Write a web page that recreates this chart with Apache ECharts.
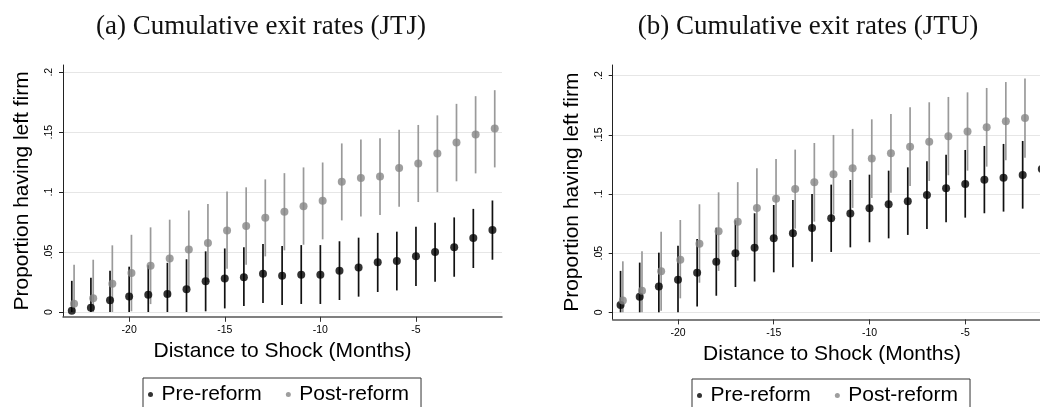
<!DOCTYPE html>
<html>
<head>
<meta charset="utf-8">
<script src="https://cdn.jsdelivr.net/npm/echarts@6/dist/echarts.min.js"></script>
<style>
  html, body { margin: 0; padding: 0; background: #fff; overflow: hidden; }
  /* a bit wider than the window: the right panel runs off the edge like the original */
  #chart { width: 1064px; height: 407px; }
</style>
</head>
<body>
<div id="chart"></div>
<script>
// months before the shock
const months = [-23, -22, -21, -20, -19, -18, -17, -16, -15, -14, -13, -12,
  -11, -10, -9, -8, -7, -6, -5, -4, -3, -2, -1];
const xTicks = [-20, -15, -10, -5];
const yTicks = [0, 0.05, 0.1, 0.15, 0.2];

// (a) JTJ
const preJTJ = [0.0011, 0.0036, 0.0097, 0.013, 0.0144, 0.015, 0.019, 0.0256, 0.028, 0.029, 0.032, 0.0303,
  0.0311, 0.0311, 0.0344, 0.0372, 0.0414, 0.0425, 0.0464, 0.05, 0.054, 0.0617, 0.0683];
const preJTJLo = [0, 0, 0, 0, 0, 0, 0, 0.0006, 0.003, 0.005, 0.0075, 0.0058,
  0.0067, 0.0067, 0.01, 0.0128, 0.0167, 0.018, 0.0217, 0.0253, 0.0294, 0.0367, 0.0436];
const preJTJHi = [0.026, 0.0286, 0.0344, 0.0378, 0.039, 0.041, 0.044, 0.0506, 0.053, 0.054, 0.0567, 0.055,
  0.0558, 0.0558, 0.059, 0.062, 0.066, 0.067, 0.071, 0.0744, 0.0789, 0.086, 0.093];
const postJTJ = [0.0069, 0.0114, 0.0236, 0.0325, 0.0386, 0.0447, 0.0522, 0.0575, 0.068, 0.0717, 0.0786, 0.0836,
  0.0883, 0.0928, 0.1086, 0.1117, 0.113, 0.12, 0.1239, 0.1322, 0.1414, 0.148, 0.153];
const postJTJLo = [0, 0, 0, 0.0006, 0.0066, 0.0124, 0.0197, 0.025, 0.036, 0.0394, 0.0464, 0.0514,
  0.0561, 0.0606, 0.0764, 0.0797, 0.081, 0.0878, 0.0917, 0.1, 0.109, 0.1156, 0.1206];
const postJTJHi = [0.0394, 0.0436, 0.0556, 0.0644, 0.0706, 0.077, 0.0847, 0.09, 0.1006, 0.104, 0.1106, 0.1158,
  0.1206, 0.1247, 0.1406, 0.1439, 0.145, 0.152, 0.156, 0.164, 0.1736, 0.18, 0.185];

// (b) JTU
const preJTU = [0.0062, 0.0132, 0.0217, 0.0276, 0.0335, 0.0428, 0.0499, 0.0546, 0.0625, 0.0668, 0.0713, 0.0794,
  0.0834, 0.0879, 0.0913, 0.0938, 0.0992, 0.1048, 0.1085, 0.1121, 0.1138, 0.1161, 0.1211];
const preJTULo = [0, 0, 0, 0, 0.0048, 0.014, 0.0214, 0.026, 0.0338, 0.038, 0.0428, 0.051,
  0.0549, 0.0592, 0.0625, 0.0654, 0.0704, 0.076, 0.08, 0.0837, 0.0851, 0.0876, 0.092];
const preJTUHi = [0.035, 0.042, 0.0504, 0.0563, 0.062, 0.0715, 0.0777, 0.0837, 0.0907, 0.0949, 0.1, 0.1079,
  0.1118, 0.1163, 0.1197, 0.1225, 0.1276, 0.1332, 0.1372, 0.1406, 0.1423, 0.1448, 0.15];
const postJTU = [0.0099, 0.0183, 0.0346, 0.0445, 0.058, 0.0685, 0.0766, 0.0882, 0.096, 0.1042, 0.1099, 0.1166,
  0.1217, 0.1299, 0.1344, 0.14, 0.1442, 0.1487, 0.1527, 0.1563, 0.1614, 0.1642, 0.168];
const postJTULo = [0, 0, 0.0014, 0.0118, 0.025, 0.035, 0.0437, 0.0547, 0.0624, 0.0707, 0.0766, 0.0828,
  0.0882, 0.0966, 0.1011, 0.1068, 0.111, 0.1158, 0.1197, 0.1231, 0.1285, 0.1307, 0.135];
const postJTUHi = [0.0431, 0.0515, 0.068, 0.078, 0.0913, 0.1014, 0.11, 0.1217, 0.1296, 0.1375, 0.1431, 0.1499,
  0.155, 0.1631, 0.1676, 0.1732, 0.1775, 0.182, 0.1859, 0.1896, 0.1946, 0.1975, 0.201];

const SANS = "Liberation Sans";
const PRE_DOT = "#000000", PRE_LINE = "#111111";
const POST_DOT = "#868686", POST_LINE = "#9a9a9a";
const POST_SHIFT = 0.12; // post-reform drawn a bit to the right

function xAxisFor(i, min) {
  return {
    type: "value", gridIndex: i, min: min, max: -0.5,
    name: "Distance to Shock (Months)", nameLocation: "middle", nameGap: 22,
    nameTextStyle: { fontFamily: SANS, fontSize: 21, color: "#000" },
    axisLine: { show: true, onZero: false, lineStyle: { color: "#555", width: 1.5 } },
    axisTick: { show: true, length: 5, customValues: xTicks, lineStyle: { color: "#333" } },
    axisLabel: { customValues: xTicks, fontFamily: SANS, fontSize: 10.5, color: "#000", margin: 8 },
    splitLine: { show: false }
  };
}
function yAxisFor(i, min, max) {
  return {
    type: "value", gridIndex: i, min: min, max: max,
    name: "Proportion having left firm", nameLocation: "middle", nameGap: 30,
    nameTextStyle: { fontFamily: SANS, fontSize: 21, color: "#000" },
    axisLine: { show: true, lineStyle: { color: "#222", width: 1 } },
    axisTick: { show: true, length: 4, customValues: yTicks, lineStyle: { color: "#222" } },
    axisLabel: {
      customValues: yTicks, rotate: 90, fontFamily: SANS, fontSize: 10.5, color: "#000", margin: 8,
      formatter: v => (v === 0 ? "0" : String(+v.toFixed(2)).replace(/^0/, ""))
    },
    splitLine: { show: true, lineStyle: { color: "#e6e6e6", width: 1 } }
  };
}
function ciSeries(name, i, lo, hi, shift, color) {
  return {
    type: "custom", name: name, xAxisIndex: i, yAxisIndex: i, silent: true,
    data: months.map((m, k) => [m + shift, lo[k], hi[k]]),
    encode: { x: 0, y: [1, 2] },
    renderItem: (params, api) => {
      const a = api.coord([api.value(0), api.value(1)]);
      const b = api.coord([api.value(0), api.value(2)]);
      return { type: "line", shape: { x1: a[0], y1: a[1], x2: b[0], y2: b[1] },
        style: { stroke: color, lineWidth: 1.7 } };
    }
  };
}
function dotSeries(name, i, vals, shift, color) {
  return {
    type: "scatter", name: name, xAxisIndex: i, yAxisIndex: i, symbol: "circle", symbolSize: 8,
    itemStyle: { color: color }, data: months.map((m, k) => [m + shift, vals[k]])
  };
}
function legendFor(left, top) {
  return {
    left: left, top: top, orient: "horizontal", icon: "circle",
    itemWidth: 12, itemHeight: 5, itemGap: 24,
    padding: [6, 12, 6, 5], borderColor: "#333", borderWidth: 1, borderRadius: 0,
    textStyle: { fontFamily: SANS, fontSize: 21, color: "#000" },
    data: ["Pre-reform", "Post-reform"], selectedMode: false
  };
}

const chart = echarts.init(document.getElementById("chart"), null, { renderer: "canvas" });
chart.setOption({
  animation: false,
  backgroundColor: "#fff",
  title: [
    { text: "(a) Cumulative exit rates (JTJ)", left: 256, top: 8, textAlign: "center",
      textStyle: { fontFamily: "Liberation Serif", fontSize: 27, fontWeight: "normal", color: "#111" } },
    { text: "(b) Cumulative exit rates (JTU)", left: 803, top: 8, textAlign: "center",
      textStyle: { fontFamily: "Liberation Serif", fontSize: 27, fontWeight: "normal", color: "#111" } }
  ],
  legend: [legendFor(143, 378), legendFor(692, 379)],
  grid: [
    { left: 63, top: 65, width: 439, height: 251.8 },
    { left: 612.7, top: 65, width: 438.7, height: 254.4 }
  ],
  xAxis: [xAxisFor(0, -23.46), xAxisFor(1, -23.41)],
  yAxis: [yAxisFor(0, -0.004, 0.206), yAxisFor(1, -0.006, 0.209)],
  series: [
    ciSeries("Pre CI a", 0, preJTJLo, preJTJHi, 0, PRE_LINE),
    dotSeries("Pre-reform", 0, preJTJ, 0, PRE_DOT),
    ciSeries("Post CI a", 0, postJTJLo, postJTJHi, POST_SHIFT, POST_LINE),
    dotSeries("Post-reform", 0, postJTJ, POST_SHIFT, POST_DOT),
    ciSeries("Pre CI b", 1, preJTULo, preJTUHi, 0, PRE_LINE),
    dotSeries("Pre-reform", 1, preJTU, 0, PRE_DOT),
    ciSeries("Post CI b", 1, postJTULo, postJTUHi, POST_SHIFT, POST_LINE),
    dotSeries("Post-reform", 1, postJTU, POST_SHIFT, POST_DOT)
  ]
});
</script>
</body>
</html>
